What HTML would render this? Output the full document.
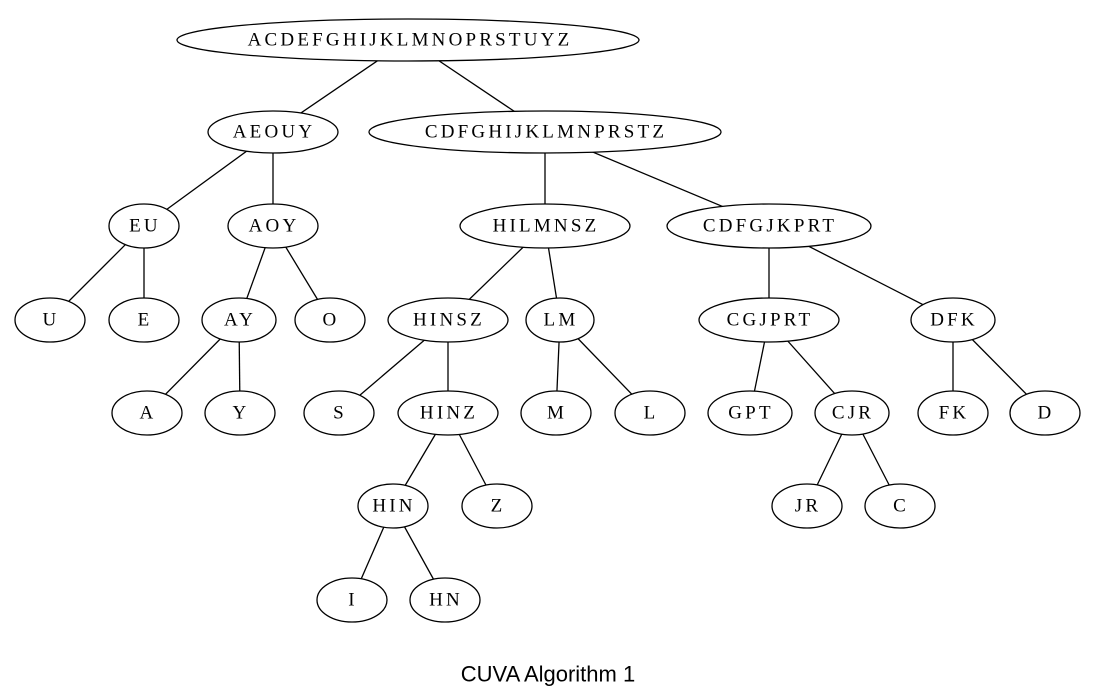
<!DOCTYPE html>
<html><head><meta charset="utf-8"><style>
html,body{margin:0;padding:0;background:#fff;}
svg{display:block}
text.n{font-family:"Liberation Serif",serif;font-size:19px;letter-spacing:3.2px;text-anchor:middle;dominant-baseline:central}
</style></head><body>
<svg width="1100" height="694" viewBox="0 0 1100 694" xmlns="http://www.w3.org/2000/svg">
<g stroke="#000" stroke-width="1.3">
<line x1="408" y1="40" x2="273" y2="132"/><line x1="408" y1="40" x2="545" y2="132"/>
<line x1="273" y1="132" x2="144" y2="226"/><line x1="273" y1="132" x2="273" y2="226"/>
<line x1="545" y1="132" x2="545" y2="226"/><line x1="545" y1="132" x2="769" y2="226"/>
<line x1="144" y1="226" x2="50" y2="320"/><line x1="144" y1="226" x2="144" y2="320"/>
<line x1="273" y1="226" x2="239" y2="320"/><line x1="273" y1="226" x2="330" y2="320"/>
<line x1="545" y1="226" x2="448" y2="320"/><line x1="545" y1="226" x2="560" y2="320"/>
<line x1="769" y1="226" x2="769" y2="320"/><line x1="769" y1="226" x2="953" y2="320"/>
<line x1="239" y1="320" x2="147" y2="413"/><line x1="239" y1="320" x2="240" y2="413"/>
<line x1="448" y1="320" x2="339" y2="413"/><line x1="448" y1="320" x2="448" y2="413"/>
<line x1="560" y1="320" x2="556" y2="413"/><line x1="560" y1="320" x2="650" y2="413"/>
<line x1="769" y1="320" x2="750" y2="413"/><line x1="769" y1="320" x2="852" y2="413"/>
<line x1="953" y1="320" x2="953" y2="413"/><line x1="953" y1="320" x2="1045" y2="413"/>
<line x1="448" y1="413" x2="393" y2="506"/><line x1="448" y1="413" x2="497" y2="506"/>
<line x1="852" y1="413" x2="807" y2="506"/><line x1="852" y1="413" x2="900" y2="506"/>
<line x1="393" y1="506" x2="352" y2="600"/><line x1="393" y1="506" x2="445" y2="600"/>
</g>
<g fill="#fff" stroke="#000" stroke-width="1.3">
<ellipse cx="408" cy="40" rx="231" ry="21"/>
<ellipse cx="273" cy="132" rx="65" ry="21"/>
<ellipse cx="545" cy="132" rx="176" ry="21"/>
<ellipse cx="144" cy="226" rx="35" ry="22"/>
<ellipse cx="273" cy="226" rx="45" ry="22"/>
<ellipse cx="545" cy="226" rx="85" ry="22"/>
<ellipse cx="769" cy="226" rx="102" ry="22"/>
<ellipse cx="50" cy="320" rx="35" ry="22"/>
<ellipse cx="144" cy="320" rx="35" ry="22"/>
<ellipse cx="239" cy="320" rx="37" ry="22"/>
<ellipse cx="330" cy="320" rx="35" ry="22"/>
<ellipse cx="448" cy="320" rx="60" ry="22"/>
<ellipse cx="560" cy="320" rx="34" ry="22"/>
<ellipse cx="769" cy="320" rx="70" ry="22"/>
<ellipse cx="953" cy="320" rx="42" ry="22"/>
<ellipse cx="147" cy="413" rx="35" ry="22"/>
<ellipse cx="240" cy="413" rx="35" ry="22"/>
<ellipse cx="339" cy="413" rx="35" ry="22"/>
<ellipse cx="448" cy="413" rx="50" ry="22"/>
<ellipse cx="556" cy="413" rx="35" ry="22"/>
<ellipse cx="650" cy="413" rx="35" ry="22"/>
<ellipse cx="750" cy="413" rx="42" ry="22"/>
<ellipse cx="852" cy="413" rx="37" ry="22"/>
<ellipse cx="953" cy="413" rx="35" ry="22"/>
<ellipse cx="1045" cy="413" rx="35" ry="22"/>
<ellipse cx="393" cy="506" rx="35" ry="22"/>
<ellipse cx="497" cy="506" rx="35" ry="22"/>
<ellipse cx="807" cy="506" rx="35" ry="22"/>
<ellipse cx="900" cy="506" rx="35" ry="22"/>
<ellipse cx="352" cy="600" rx="35" ry="22"/>
<ellipse cx="445" cy="600" rx="35" ry="22"/>
</g>
<g fill="#000">
<text class="n" x="410" y="40">ACDEFGHIJKLMNOPRSTUYZ</text>
<text class="n" x="274" y="132">AEOUY</text>
<text class="n" x="546" y="132">CDFGHIJKLMNPRSTZ</text>
<text class="n" x="145" y="226">EU</text>
<text class="n" x="274" y="226">AOY</text>
<text class="n" x="546" y="226">HILMNSZ</text>
<text class="n" x="770" y="226">CDFGJKPRT</text>
<text class="n" x="51" y="320">U</text>
<text class="n" x="145" y="320">E</text>
<text class="n" x="240" y="320">AY</text>
<text class="n" x="331" y="320">O</text>
<text class="n" x="449" y="320">HINSZ</text>
<text class="n" x="561" y="320">LM</text>
<text class="n" x="770" y="320">CGJPRT</text>
<text class="n" x="954" y="320">DFK</text>
<text class="n" x="148" y="413">A</text>
<text class="n" x="241" y="413">Y</text>
<text class="n" x="340" y="413">S</text>
<text class="n" x="449" y="413">HINZ</text>
<text class="n" x="557" y="413">M</text>
<text class="n" x="651" y="413">L</text>
<text class="n" x="751" y="413">GPT</text>
<text class="n" x="853" y="413">CJR</text>
<text class="n" x="954" y="413">FK</text>
<text class="n" x="1046" y="413">D</text>
<text class="n" x="394" y="506">HIN</text>
<text class="n" x="498" y="506">Z</text>
<text class="n" x="808" y="506">JR</text>
<text class="n" x="901" y="506">C</text>
<text class="n" x="353" y="600">I</text>
<text class="n" x="446" y="600">HN</text>
<text x="548" y="674" font-family="Liberation Sans, sans-serif" font-size="22" text-anchor="middle" dominant-baseline="central">CUVA Algorithm 1</text>
</g>
</svg>
</body></html>
